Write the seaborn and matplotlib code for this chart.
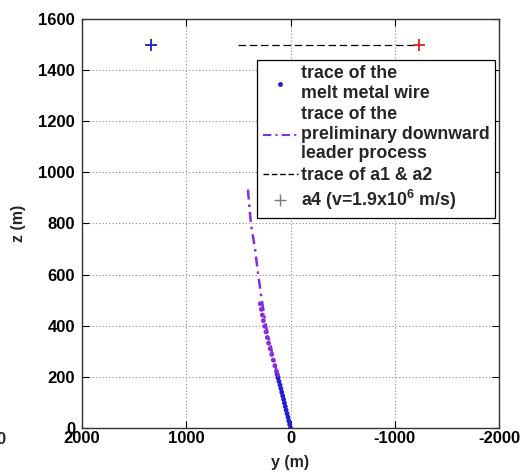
import matplotlib
matplotlib.use("Agg")
import matplotlib.pyplot as plt
import seaborn as sns
import pandas as pd
from matplotlib.lines import Line2D

# ---- data ----
wire_y = [0, 8, 16, 24, 33, 42, 50, 58, 66, 75, 84, 92, 100, 110, 120, 128]
wire_z = [0, 14, 28, 42, 56, 70, 84, 98, 112, 126, 140, 154, 168, 182, 196, 210]

leader_dot_y = [120, 135, 150, 165, 180, 195, 210, 222, 235, 248, 260, 270, 280, 290]
leader_dot_z = [200, 222, 244, 266, 288, 310, 332, 354, 376, 398, 420, 442, 464, 486]

leader_y = [120, 180, 235, 275, 310, 340, 380, 410]
leader_z = [200, 300, 400, 500, 600, 700, 800, 940]

a12_y = [500, -1230]
a12_z = [1500, 1500]

a1_y, a1_z = [1340], [1500]
a2_y, a2_z = [-1230], [1500]

xticks = [2000, 1000, 0, -1000, -2000]
yticks = [0, 200, 400, 600, 800, 1000, 1200, 1400, 1600]

labels = ["trace of the\nmelt metal wire",
          "trace of the\npreliminary downward\nleader process",
          "trace of a1 & a2",
          "a4 (v=1.9x10$^{6}$ m/s)"]

sns.set_theme(style="white")
plt.rcParams['font.family'] = ['Liberation Sans', 'DejaVu Sans']
plt.rcParams['mathtext.fontset'] = 'custom'
plt.rcParams['mathtext.rm'] = 'Liberation Sans'
plt.rcParams['mathtext.bf'] = 'Liberation Sans:bold'
plt.rcParams['mathtext.default'] = 'bf'

fig = plt.figure(figsize=(5.22, 4.75), dpi=100)
ax = fig.add_axes([82/522, 1-428/475, (499-82)/522, (428-19)/475])

purple = "#8a2be2"
blue = "#1f1fd0"

df_wire = pd.DataFrame({"y": wire_y, "z": wire_z})
df_ld = pd.DataFrame({"y": leader_dot_y, "z": leader_dot_z})
df_l = pd.DataFrame({"y": leader_y, "z": leader_z})
df_a = pd.DataFrame({"y": a12_y, "z": a12_z})

sns.lineplot(data=df_l, x="y", y="z", sort=False, estimator=None, ax=ax,
             color=purple, linestyle=(0, (4, 2, 1, 2)), linewidth=1.8)
sns.scatterplot(data=df_ld, x="y", y="z", ax=ax, color=purple, s=12,
                edgecolor="none")
sns.scatterplot(data=df_wire, x="y", y="z", ax=ax, color=blue, s=12,
                edgecolor="none")
sns.lineplot(data=df_a, x="y", y="z", sort=False, estimator=None, ax=ax,
             color="black", linestyle=(0, (6, 3)), linewidth=0.9)
ax.plot(a1_y, a1_z, marker="+", color=blue, markersize=9, mew=1.3, linestyle="none")
ax.plot(a2_y, a2_z, marker="+", color="#e02020", markersize=9, mew=1.3, linestyle="none")

ax.set_xlim(2000, -2000)
ax.set_ylim(0, 1600)
ax.set_xticks(xticks)
ax.set_yticks(yticks)
ax.set_xticklabels([str(v) for v in xticks], fontsize=12, fontweight="bold")
ax.set_yticklabels([str(v) for v in yticks], fontsize=12, fontweight="bold")
ax.tick_params(direction="in", top=True, right=True, length=5, width=0.8,
               colors="black", bottom=True, left=True)
ax.tick_params(axis="y", pad=5)
ax.tick_params(axis="x", pad=2)
ax.set_xlabel("y (m)", fontsize=11.5, fontweight="bold", labelpad=7)
ax.set_ylabel("z (m)", fontsize=11.5, fontweight="bold", labelpad=9)
ax.grid(True, linestyle=(0, (1, 2)), color="#888888", linewidth=0.8)
for s in ax.spines.values():
    s.set_color("#333333")
    s.set_linewidth(1.0)
    s.set_visible(True)

handles = [
    Line2D([], [], marker=".", color=blue, linestyle="none", markersize=5),
    Line2D([], [], color=purple, linestyle=(0, (4, 2, 1, 2)), linewidth=1.5),
    Line2D([], [], color="black", linestyle=(0, (4, 2)), linewidth=1.0),
    Line2D([], [], marker="+", color="#777777", linestyle="none", markersize=8, mew=1.0),
]
leg = ax.legend(handles, labels, loc="upper right", bbox_to_anchor=(0.990, 0.900),
                borderaxespad=0, frameon=True, fancybox=False, framealpha=1,
                edgecolor="black", handlelength=2.0, handletextpad=0.15,
                labelspacing=0.25, borderpad=0.3,
                prop={"size": 12.8, "weight": "bold"})
for t in leg.get_texts():
    t.set_linespacing(1.2)
leg.get_frame().set_linewidth(0.9)

fig.text(-0.006, 1-440/475, "0", fontsize=12, fontweight="bold", va="center")

fig.savefig("out.png", dpi=100)
